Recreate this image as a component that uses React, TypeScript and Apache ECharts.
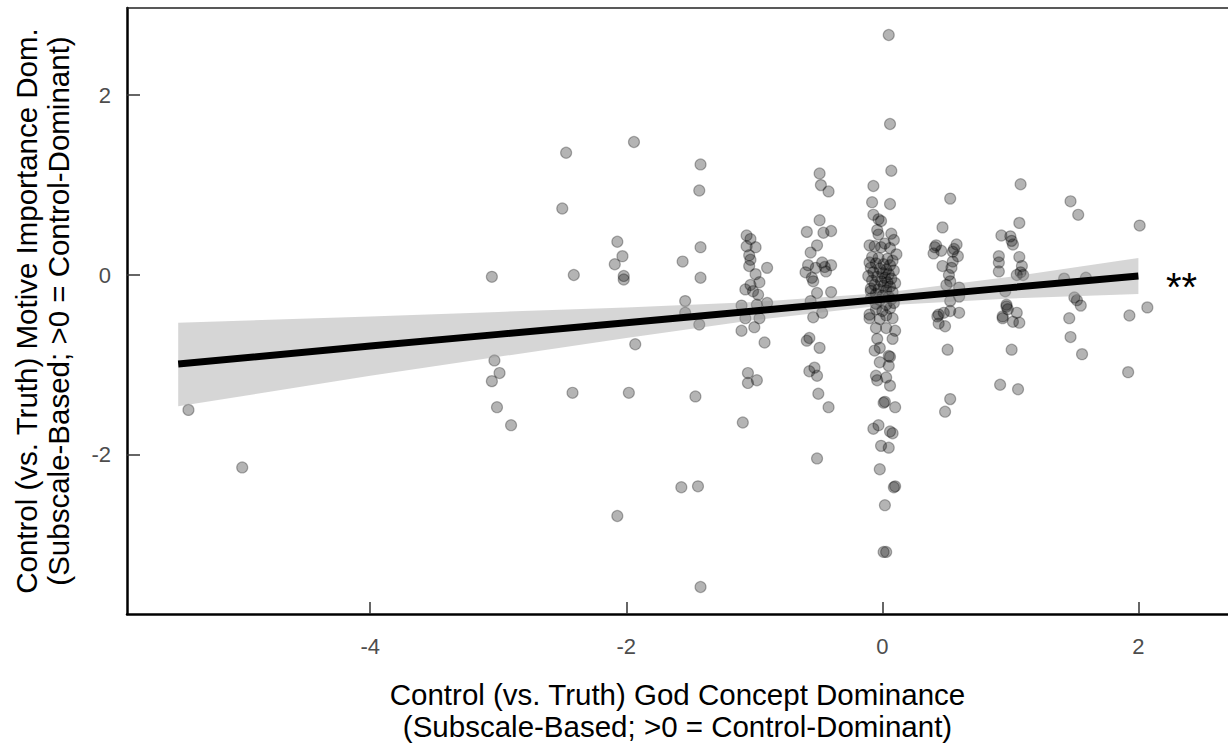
import React, { useEffect, useRef } from "react";
import * as echarts from "echarts";

// ---- data ----
const farLeft: [number, number][] = [[-5.42, -1.5], [-5.0, -2.14]];
const colNeg3: [number, number][] = [[-3.05, -0.02], [-3.03, -0.95], [-3.05, -1.18], [-2.99, -1.09], [-3.01, -1.47], [-2.9, -1.67]];
const colNeg25: [number, number][] = [[-2.47, 1.36], [-2.5, 0.74], [-2.41, 0.0], [-2.42, -1.31]];
const colNeg2: [number, number][] = [[-2.07, 0.37], [-2.03, 0.21], [-2.09, 0.12], [-2.02, -0.01], [-2.02, -0.05], [-1.98, -1.31], [-1.94, 1.48], [-1.93, -0.77], [-2.07, -2.68]];
const colNeg15: [number, number][] = [[-1.42, 1.23], [-1.43, 0.94], [-1.56, 0.15], [-1.42, 0.31], [-1.42, -0.03], [-1.54, -0.29], [-1.54, -0.42], [-1.43, -0.55], [-1.46, -1.35], [-1.57, -2.36], [-1.44, -2.35], [-1.42, -3.47]];
const colNeg1: [number, number][] = [[-1.06, 0.44], [-1.03, 0.4], [-1.06, 0.32], [-0.99, 0.31], [-1.04, 0.22], [-1.03, 0.17], [-1.04, 0.1], [-0.9, 0.08], [-0.99, 0.01], [-0.96, -0.08], [-1.03, -0.11], [-1.07, -0.16], [-1.01, -0.18], [-0.97, -0.22], [-1.1, -0.34], [-0.9, -0.31], [-0.98, -0.33], [-1.07, -0.48], [-0.96, -0.48], [-1.1, -0.62], [-1.0, -0.58], [-0.92, -0.75], [-1.05, -1.09], [-1.05, -1.2], [-0.98, -1.17], [-1.09, -1.64]];
const colNeg05: [number, number][] = [[-0.49, 1.13], [-0.48, 1.0], [-0.42, 0.93], [-0.49, 0.61], [-0.59, 0.48], [-0.46, 0.47], [-0.4, 0.49], [-0.51, 0.33], [-0.56, 0.25], [-0.58, 0.11], [-0.47, 0.14], [-0.4, 0.11], [-0.6, 0.03], [-0.44, 0.04], [-0.52, 0.08], [-0.45, 0.09], [-0.55, -0.03], [-0.54, -0.07], [-0.51, -0.2], [-0.4, -0.19], [-0.56, -0.29], [-0.47, -0.42], [-0.54, -0.47], [-0.59, -0.73], [-0.57, -0.7], [-0.49, -0.81], [-0.57, -1.07], [-0.53, -1.03], [-0.51, -1.12], [-0.5, -1.32], [-0.42, -1.47], [-0.51, -2.04]];
const col0: [number, number][] = [
  [0.05, 2.67], [0.06, 1.68], [0.07, 1.16], [-0.07, 0.99], [-0.08, 0.81], [0.06, 0.79], [-0.07, 0.67], [-0.03, 0.62], [-0.01, 0.6], [-0.04, 0.5], [-0.03, 0.45], [0.07, 0.46], [0.09, 0.39], [0.02, 0.35], [-0.1, 0.33], [-0.06, 0.32], [-0.01, 0.31], [0.06, 0.3], [0.11, 0.23],
  [-0.08, 0.2], [-0.03, 0.19], [0.04, 0.18], [0.08, 0.16], [-0.1, 0.14], [-0.05, 0.13], [0.01, 0.12], [0.06, 0.11], [-0.09, 0.08], [-0.02, 0.07], [0.03, 0.06], [0.09, 0.05], [-0.07, 0.03], [0.0, 0.02], [0.05, 0.01], [-0.11, -0.01], [-0.04, -0.02], [0.02, -0.03], [0.07, -0.04], [-0.08, -0.06], [-0.01, -0.07], [0.04, -0.08], [0.1, -0.09], [-0.06, -0.11], [0.01, -0.12], [0.06, -0.13], [-0.09, -0.15], [-0.03, -0.16], [0.03, -0.17], [-0.09, -0.18], [0.08, -0.19], [-0.05, -0.21], [0.0, -0.23], [0.05, -0.24],
  [-0.09, -0.26], [-0.02, -0.28], [0.07, -0.27], [-0.05, -0.32], [0.03, -0.33], [0.09, -0.31], [-0.05, -0.38], [0.0, -0.4], [0.06, -0.37], [-0.1, -0.44], [-0.1, -0.48], [-0.02, -0.49], [0.08, -0.48], [0.03, -0.45], [-0.05, -0.59], [0.03, -0.59], [0.1, -0.62], [-0.04, -0.71], [0.08, -0.71],
  [-0.06, -0.84], [-0.02, -0.81], [0.05, -0.9], [0.06, -0.91], [-0.02, -0.97], [0.05, -1.01], [-0.05, -1.12], [-0.04, -1.17], [0.03, -1.14], [0.06, -1.23], [0.01, -1.42], [0.02, -1.41], [0.1, -1.47], [-0.07, -1.71], [-0.03, -1.67], [0.06, -1.74], [0.08, -1.76], [-0.01, -1.9], [0.05, -1.92], [-0.02, -2.16], [0.09, -2.36], [0.1, -2.35], [0.02, -2.56], [0.01, -3.08], [0.03, -3.08]
];
const col05: [number, number][] = [[0.53, 0.85], [0.47, 0.53], [0.42, 0.33], [0.41, 0.31], [0.4, 0.24], [0.46, 0.27], [0.58, 0.34], [0.56, 0.29], [0.55, 0.26], [0.59, 0.21], [0.55, 0.15], [0.47, 0.1], [0.54, 0.08], [0.52, 0.0], [0.53, -0.07], [0.6, -0.14], [0.5, -0.11], [0.6, -0.24], [0.53, -0.29], [0.44, -0.44], [0.48, -0.42], [0.53, -0.4], [0.6, -0.42], [0.43, -0.46], [0.44, -0.54], [0.49, -0.57], [0.51, -0.83], [0.53, -1.38], [0.49, -1.52]];
const col1: [number, number][] = [[1.08, 1.01], [1.07, 0.58], [0.93, 0.44], [1.0, 0.43], [1.01, 0.38], [1.02, 0.34], [0.91, 0.21], [0.91, 0.14], [0.91, 0.04], [1.07, 0.2], [1.09, 0.1], [1.05, 0.0], [1.1, 0.0], [1.08, 0.03], [0.96, -0.18], [0.97, -0.33], [0.97, -0.35], [0.98, -0.38], [0.94, -0.46], [1.05, -0.42], [0.94, -0.48], [1.02, -0.52], [1.07, -0.53], [1.01, -0.83], [0.92, -1.22], [1.06, -1.27]];
const col15: [number, number][] = [[1.47, 0.82], [1.53, 0.67], [1.42, -0.04], [1.59, -0.03], [1.5, -0.25], [1.52, -0.28], [1.55, -0.34], [1.46, -0.48], [1.47, -0.69], [1.56, -0.88]];
const col2: [number, number][] = [[2.01, 0.55], [2.07, -0.36], [1.93, -0.45], [1.92, -1.08]];

// regression fit and confidence band
const bandX = [-5.5, -4, -3, -2, -1, 0, 1, 2];
const fitY = [-0.99, -0.79, -0.66, -0.53, -0.4, -0.27, -0.14, -0.01];
const bandLower = [-1.46, -1.12, -0.91, -0.7, -0.5, -0.34, -0.26, -0.21];
const bandUpper = [-0.53, -0.46, -0.41, -0.36, -0.3, -0.2, -0.02, 0.19];

const xTicks = [-4, -2, 0, 2];
const yTicks = [-2, 0, 2];
const xTitle = "Control (vs. Truth) God Concept Dominance\n(Subscale-Based; >0 = Control-Dominant)";
const yTitle = "Control (vs. Truth) Motive Importance Dom.\n(Subscale-Based; >0 = Control-Dominant)";
const sigLabel = "**";

const FONT = "'Liberation Sans', Arial, Helvetica, sans-serif";

export default function App() {
  const ref = useRef<HTMLDivElement>(null);
  useEffect(() => {
    if (!ref.current) return;
    const chart = echarts.init(ref.current, undefined, { renderer: "svg" });
    const points = [...farLeft, ...colNeg3, ...colNeg25, ...colNeg2, ...colNeg15, ...colNeg1, ...colNeg05, ...col0, ...col05, ...col1, ...col15, ...col2];
    const bandData = bandX.map((x, i) => [x, bandLower[i], bandUpper[i]]);
    chart.setOption({
      animation: false,
      grid: { left: 127, right: 0, top: 8, bottom: 129, containLabel: false },
      xAxis: [
        {
          type: "value",
          min: -5.9,
          max: 2.7,
          axisLine: { show: true, onZero: false, lineStyle: { color: "#000", width: 2.5 } },
          axisTick: { show: true, inside: true, length: 12, customValues: xTicks, lineStyle: { color: "#333", width: 1.5 } },
          axisLabel: { customValues: xTicks, color: "#4d4d4d", fontSize: 22, margin: 21, fontFamily: FONT },
          splitLine: { show: false },
          name: xTitle,
          nameLocation: "middle",
          nameGap: 64,
          nameTextStyle: { color: "#000", fontSize: 29.5, lineHeight: 32, fontFamily: FONT },
        },
        {
          type: "value",
          position: "top",
          min: -5.9,
          max: 2.7,
          axisLine: { show: true, onZero: false, lineStyle: { color: "#222", width: 1.5 } },
          axisTick: { show: false },
          axisLabel: { show: false },
          splitLine: { show: false },
        },
      ],
      yAxis: {
        type: "value",
        min: -3.77,
        max: 2.97,
        axisLine: { show: true, onZero: false, lineStyle: { color: "#000", width: 2.5 } },
        axisTick: { show: true, inside: true, length: 13, customValues: yTicks, lineStyle: { color: "#333", width: 1.5 } },
        axisLabel: { customValues: yTicks, color: "#4d4d4d", fontSize: 22, margin: 16, fontFamily: FONT },
        splitLine: { show: false },
        name: yTitle,
        nameLocation: "middle",
        nameGap: 53,
        nameTextStyle: { color: "#000", fontSize: 29.5, lineHeight: 32, fontFamily: FONT },
      },
      series: [
        {
          type: "scatter",
          data: points,
          symbol: "circle",
          symbolSize: 11,
          z: 2,
          itemStyle: { color: "rgba(0,0,0,0.37)", borderColor: "rgba(0,0,0,0.37)", borderWidth: 1.2 },
          silent: true,
        },
        {
          type: "custom",
          data: bandData,
          encode: { x: 0, y: [1, 2] },
          z: 3,
          silent: true,
          renderItem: (params: any, api: any) => {
            if (params.dataIndex !== 0) return null;
            const pts: number[][] = [];
            for (let i = 0; i < bandX.length; i++) pts.push(api.coord([bandX[i], bandUpper[i]]));
            for (let i = bandX.length - 1; i >= 0; i--) pts.push(api.coord([bandX[i], bandLower[i]]));
            return { type: "polygon", shape: { points: pts }, style: { fill: "rgba(153,153,153,0.4)" } };
          },
        },
        {
          type: "line",
          data: bandX.map((x, i) => [x, fitY[i]]),
          symbol: "none",
          z: 4,
          silent: true,
          lineStyle: { color: "#000", width: 7 },
        },
      ],
      graphic: [
        {
          type: "text",
          left: 1166,
          top: 267,
          style: { text: sigLabel, font: `40px ${FONT}`, fill: "#000" },
        },
      ],
    });
    return () => chart.dispose();
  }, []);
  return <div ref={ref} style={{ position: "absolute", left: 0, top: 0, width: 1228, height: 747 }} />;
}
